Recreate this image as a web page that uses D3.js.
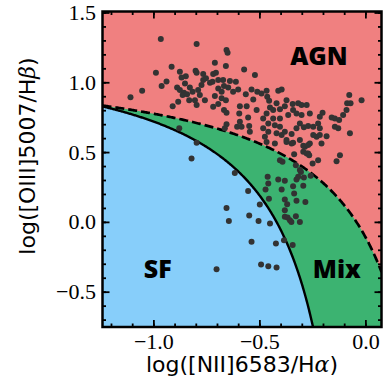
<!DOCTYPE html>
<html>
<head>
<meta charset="utf-8">
<script src="https://cdn.jsdelivr.net/npm/d3@7"></script>
<style>
  html, body { margin: 0; padding: 0; background: #fff; }
  svg { display: block; }
</style>
</head>
<body>
<svg id="chart" width="384" height="389"></svg>
<script>
// BPT diagnostic diagram: [NII]/Hα vs [OIII]/Hβ

// log([NII]6583/Hα) of each galaxy
const nii = [
  -0.965,-0.796,-0.655,-0.650,-0.710,-0.988,-0.914,-0.875,-0.847,-0.801,
  -0.796,-0.765,-0.718,-0.705,-0.658,-0.572,-0.521,-0.961,-0.938,-0.888,
  -0.867,-0.875,-0.856,-0.828,-0.815,-0.789,-0.773,-0.765,-0.752,-0.733,
  -0.721,-0.694,-0.671,-0.667,-0.647,-0.639,-0.611,-0.600,-1.108,-1.053,
  -0.909,-0.883,-0.862,-0.841,-0.804,-0.796,-0.781,-0.710,-0.718,-0.694,
  -0.678,-0.658,-0.667,-0.655,-0.592,-0.564,-0.560,-0.537,-0.529,-0.510,
  -0.490,-0.466,-0.463,-0.454,-0.450,-0.411,-0.395,-0.419,-0.403,-0.380,
  -0.343,-0.317,-0.301,-0.277,-0.341,-0.325,-0.364,-0.435,-0.466,-0.482,
  -0.458,-0.482,-0.427,-0.403,-0.419,-0.395,-0.380,-0.372,-0.348,-0.348,
  -0.325,-0.309,-0.301,-0.290,-0.270,-0.246,-0.223,-0.202,-0.215,-0.230,
  -0.215,-0.183,-0.207,-0.262,-0.285,-0.293,-0.270,-0.159,-0.144,-0.124,
  -0.128,-0.105,-0.089,-0.086,-0.076,-0.070,-0.018,-0.073,-0.120,-0.474,
  -0.553,-0.592,-0.605,-0.584,-0.548,-0.655,-0.663,-0.878,-0.796,-0.820,
  -0.595,-0.513,-0.435,-0.403,-0.458,-0.545,-0.309,-0.246,-0.215,-0.144,
  -0.262,-0.372,-0.678,-0.624,-0.694,-0.851,-0.757,-0.831,
  -0.616,-0.553,-0.655,-0.644,-0.548,-0.504,-0.498,-0.450,-0.537,-0.422,
  -0.343,-0.384,-0.702,-0.492,-0.458,-0.419,
  -0.461,-0.458,-0.471,-0.455,-0.411,-0.380,-0.395,-0.341,-0.325,-0.317,
  -0.290,-0.304,-0.293,-0.336,-0.325,-0.380,-0.369,-0.283,-0.380,-0.380,
  -0.367,-0.356,-0.349,-0.328,-0.309,-0.258,-0.403,-0.391,-0.336,-0.372,
  -0.341,-0.293,-0.270,-0.277,-0.265,-0.249,-0.223,-0.136,-0.427,-0.466,
  -0.328,-0.309
];

// log([OIII]5007/Hβ) of each galaxy
const oiii = [
  1.310,1.274,1.231,1.211,1.140,1.068,1.111,1.075,1.044,1.082,
  1.068,1.059,1.059,1.068,1.116,1.092,1.052,0.973,1.006,0.963,
  1.035,0.944,0.925,0.963,0.932,0.944,0.980,1.016,1.028,0.996,
  1.004,0.956,1.016,0.973,0.963,1.009,1.004,0.949,0.892,0.939,
  0.829,0.860,0.908,0.915,0.872,0.837,0.908,0.901,0.824,0.844,
  0.885,0.872,0.801,0.781,0.829,0.915,0.829,0.949,0.877,0.932,
  0.920,0.939,0.896,0.867,0.820,0.939,0.949,0.849,0.806,0.829,
  0.844,0.849,0.837,0.837,0.801,0.777,0.765,0.801,0.777,0.741,
  0.705,0.670,0.693,0.681,0.634,0.622,0.645,0.586,0.562,0.629,
  0.670,0.705,0.765,0.677,0.686,0.681,0.705,0.781,0.753,0.609,
  0.622,0.614,0.562,0.562,0.538,0.502,0.490,0.748,0.741,0.729,
  0.670,0.765,0.801,0.849,0.908,0.849,0.872,0.634,0.478,0.609,
  0.748,0.717,0.681,0.681,0.686,0.700,0.670,0.670,0.566,0.454,
  0.777,0.801,0.741,0.741,0.645,0.645,0.586,0.622,0.670,0.681,
  0.777,0.872,0.932,0.932,1.016,0.992,0.872,0.872,
  0.351,0.222,0.100,0.007,0.046,0.007,0.125,-0.011,-0.143,-0.155,
  -0.165,-0.131,-0.339,-0.305,-0.318,-0.327,
  0.323,0.275,0.232,0.165,0.304,0.294,0.232,0.256,0.304,0.323,
  0.318,0.358,0.258,0.204,0.151,0.161,0.127,0.143,0.084,0.036,
  0.032,0.012,0.000,0.041,0.000,0.330,0.442,0.430,0.485,0.573,
  0.566,0.545,0.550,0.490,0.478,0.419,0.442,0.435,0.562,0.573,
  0.406,0.371
];

// Axis ranges and tick values
const xDomain = [-1.24, 0.076];
const yDomain = [-0.753, 1.507];
const xMajorTicks = [-1.0, -0.5, 0.0];
const yMajorTicks = [-0.5, 0.0, 0.5, 1.0, 1.5];

// Demarcation curves: y = a / (x - b) + c
const kauffmann = [0.61, 0.05, 1.30];   // star-forming upper boundary
const kewley    = [0.61, 0.47, 1.19];   // maximum starburst line

const regionLabels = ["AGN", "SF", "Mix"];
const regionColors = { agn: "#F08080", mix: "#3CB371", sf: "#87CEFA" };

const pL = 102.5, pR = 381.5, pT = 11.5, pB = 327;

const svg = d3.select("#chart");
const x = d3.scaleLinear().domain(xDomain).range([pL, pR]);
const y = d3.scaleLinear().domain(yDomain).range([pB, pT]);

const curve = (p) => (v) => p[0] / (v - p[1]) + p[2];
const kfY = curve(kauffmann);
const kwY = curve(kewley);

svg.append("defs").append("clipPath").attr("id", "plotClip")
  .append("rect")
  .attr("x", pL).attr("y", pT)
  .attr("width", pR - pL).attr("height", pB - pT);

const plot = svg.append("g").attr("clip-path", "url(#plotClip)");

// Background: AGN region
plot.append("rect")
  .attr("x", pL).attr("y", pT)
  .attr("width", pR - pL).attr("height", pB - pT)
  .attr("fill", regionColors.agn);

// Sample points along each curve within the plotted range
const kwEnd = xDomain[1];
const kfEnd = kauffmann[1] + kauffmann[0] / (yDomain[0] - kauffmann[2]);
const kwPts = d3.range(0, 301).map(i => xDomain[0] + (kwEnd - xDomain[0]) * i / 300)
  .map(v => ({ xv: v, yv: kwY(v) }));
const kfPts = d3.range(0, 301).map(i => xDomain[0] + (kfEnd - xDomain[0]) * i / 300)
  .map(v => ({ xv: v, yv: kfY(v) }));

const fillUnder = (pts, color, extraRight) => {
  const poly = pts.map(p => [x(p.xv), y(p.yv)]);
  poly.push([extraRight, pB + 5]);
  poly.push([x(xDomain[0]) - 5, pB + 5]);
  poly.unshift([x(xDomain[0]) - 5, y(pts[0].yv)]);
  plot.append("path")
    .attr("d", "M" + poly.map(p => p.join(",")).join("L") + "Z")
    .attr("fill", color);
};

// Composite region below the Kewley line, SF region below the Kauffmann line
fillUnder(kwPts, regionColors.mix, x(kwEnd) + 5);
fillUnder(kfPts, regionColors.sf, x(kfEnd));

const line = d3.line().x(p => x(p.xv)).y(p => y(p.yv));

plot.append("path")
  .attr("d", line(kfPts))
  .attr("fill", "none")
  .attr("stroke", "#000")
  .attr("stroke-width", 2.4);

plot.append("path")
  .attr("d", line(kwPts))
  .attr("fill", "none")
  .attr("stroke", "#000")
  .attr("stroke-width", 2.7)
  .attr("stroke-dasharray", "9,4");

// Galaxies
plot.selectAll("circle.gal")
  .data(d3.range(nii.length))
  .join("circle")
  .attr("class", "gal")
  .attr("cx", i => x(nii[i]))
  .attr("cy", i => y(oiii[i]))
  .attr("r", 3)
  .attr("fill", "#333333");

// Region labels
const labelPos = [
  { t: regionLabels[0], xv: -0.355, yv: 1.125 },
  { t: regionLabels[1], xv: -1.045, yv: -0.405 },
  { t: regionLabels[2], xv: -0.248, yv: -0.405 }
];
svg.selectAll("text.region")
  .data(labelPos)
  .join("text")
  .attr("class", "region")
  .attr("x", d => x(d.xv))
  .attr("y", d => y(d.yv))
  .attr("font-family", "'Open Sans', Lato, sans-serif")
  .attr("font-weight", 800)
  .attr("font-size", 25)
  .attr("fill", "#000")
  .text(d => d.t);

// Axes with inward ticks on all four sides
const fmt = d3.format(".1f");
const xMinor = d3.range(-12, 1).map(i => i / 10);
const yMinor = d3.range(-7, 16).map(i => i / 10);
const tickFont = "'Liberation Serif', 'DejaVu Serif', serif";

const styleAxis = (g) => {
  g.select(".domain").remove();
  g.selectAll(".tick line").attr("stroke", "#000").attr("stroke-width", 1.8);
  g.selectAll(".tick text").attr("font-family", tickFont).attr("font-size", 22).attr("fill", "#000");
};

svg.append("g").attr("transform", `translate(0,${pB})`)
  .call(d3.axisBottom(x).tickValues(xMinor).tickSize(-3.5).tickFormat(""))
  .call(styleAxis);
svg.append("g").attr("transform", `translate(0,${pB})`)
  .call(d3.axisBottom(x).tickValues(xMajorTicks).tickSize(-7).tickPadding(6).tickFormat(fmt))
  .call(styleAxis);
svg.append("g").attr("transform", `translate(0,${pT})`)
  .call(d3.axisTop(x).tickValues(xMinor).tickSize(-3.5).tickFormat(""))
  .call(styleAxis);
svg.append("g").attr("transform", `translate(0,${pT})`)
  .call(d3.axisTop(x).tickValues(xMajorTicks).tickSize(-7).tickFormat(""))
  .call(styleAxis);

svg.append("g").attr("transform", `translate(${pL},0)`)
  .call(d3.axisLeft(y).tickValues(yMinor).tickSize(-3.5).tickFormat(""))
  .call(styleAxis);
svg.append("g").attr("transform", `translate(${pL},0)`)
  .call(d3.axisLeft(y).tickValues(yMajorTicks).tickSize(-7).tickPadding(6.5).tickFormat(fmt))
  .call(styleAxis);
svg.append("g").attr("transform", `translate(${pR},0)`)
  .call(d3.axisRight(y).tickValues(yMinor).tickSize(-3.5).tickFormat(""))
  .call(styleAxis);
svg.append("g").attr("transform", `translate(${pR},0)`)
  .call(d3.axisRight(y).tickValues(yMajorTicks).tickSize(-7).tickFormat(""))
  .call(styleAxis);

// Frame
svg.append("rect")
  .attr("x", pL).attr("y", pT)
  .attr("width", pR - pL).attr("height", pB - pT)
  .attr("fill", "none")
  .attr("stroke", "#000")
  .attr("stroke-width", 2.5);

// Axis titles
const titleFont = "'DejaVu Sans', sans-serif";
const xTitle = svg.append("text")
  .attr("x", (pL + pR) / 2)
  .attr("y", 372)
  .attr("text-anchor", "middle")
  .attr("font-family", titleFont)
  .attr("font-size", 22)
  .attr("fill", "#000");
xTitle.append("tspan").text("log([NII]6583/H");
xTitle.append("tspan").attr("font-family", "'DejaVu Serif', serif").attr("font-style", "italic").text("α");
xTitle.append("tspan").text(")");

const yTitle = svg.append("text")
  .attr("transform", "translate(35,156) rotate(-90)")
  .attr("text-anchor", "middle")
  .attr("font-family", titleFont)
  .attr("font-size", 22)
  .attr("fill", "#000");
yTitle.append("tspan").text("log([OIII]5007/H");
yTitle.append("tspan").attr("font-family", "'DejaVu Serif', serif").attr("font-style", "italic").text("β");
yTitle.append("tspan").text(")");
</script>
</body>
</html>
